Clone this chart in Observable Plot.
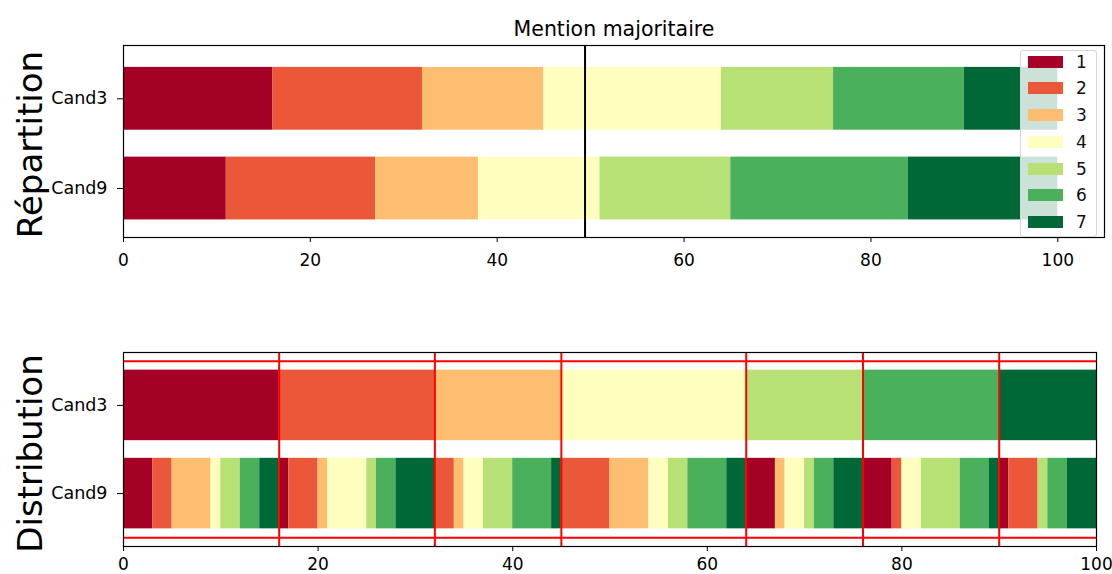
<!DOCTYPE html>
<html>
<head>
<meta charset="utf-8">
<script src="https://cdn.jsdelivr.net/npm/d3@7"></script>
<script src="https://cdn.jsdelivr.net/npm/@observablehq/plot@0.6"></script>
<style>
  html, body { margin: 0; padding: 0; background: #fff; }
  #wrap { position: relative; width: 1112px; height: 574px; overflow: hidden; font-family: "DejaVu Sans", sans-serif; }
  #wrap svg { display: block; overflow: visible; }
  .lg-swatches {
    position: absolute; left: 1020px; top: 50px; width: 77px; height: 187px;
    box-sizing: border-box; margin: 0; padding: 0 0 0 7px;
    background: rgba(255,255,255,0.8); border: 1px solid #d6d6d6; border-radius: 3px;
    font-family: "DejaVu Sans", sans-serif; font-size: 17px; color: #111;
  }
  .lg-swatches .lg-swatch { height: 26.7px; padding: 0; display: flex; align-items: center; }
  .lg-swatches .lg-swatch:first-of-type { margin-top: -2.6px; }
  .lg-swatches .lg-swatch > svg { margin-right: 13px; }
</style>
</head>
<body>
<div id="wrap"></div>
<script>
// ---- data ----
const candidates = ["Cand3", "Cand9"];
const grades = ["1", "2", "3", "4", "5", "6", "7"];
const gradeColors = ["#a50026", "#ea5739", "#fdbf6f", "#feffbe", "#b7e075", "#4bb05c", "#006837"];
const cand3Shares = [16, 16, 13, 19, 12, 14, 10];
const cand9Shares = [11, 16, 11, 13, 14, 19, 16];
// Cand9 grade counts inside each Cand3 grade band (rows: Cand3 grade 1..7, cols: Cand9 grade 1..7)
const cand9WithinCand3 = [
  [3, 2, 4, 1, 2, 2, 2],
  [1, 3, 1, 4, 1, 2, 4],
  [0, 2, 1, 2, 3, 4, 1],
  [0, 5, 4, 2, 2, 4, 2],
  [3, 0, 1, 2, 1, 2, 3],
  [3, 1, 0, 2, 4, 3, 1],
  [1, 3, 0, 0, 1, 2, 3]
];
const majorityLine = 49.4;
const xTicks = [0, 20, 40, 60, 80, 100];
const titleText = "Mention majoritaire";
const topLabel = "Répartition";
const bottomLabel = "Distribution";

// ---- derived tables ----
function stackRow(values, cand, row, gradeList) {
  let acc = 0;
  return values.map((v, i) => {
    const s = {cand, row, grade: gradeList[i], x1: acc, x2: acc + v};
    acc += v;
    return s;
  });
}
const rowOf = {Cand3: 1, Cand9: 0};
const repartition = [
  ...stackRow(cand3Shares, "Cand3", rowOf.Cand3, grades),
  ...stackRow(cand9Shares, "Cand9", rowOf.Cand9, grades)
];
const distribution = [
  ...stackRow(cand3Shares, "Cand3", rowOf.Cand3, grades),
  ...stackRow(cand9WithinCand3.flat(), "Cand9", rowOf.Cand9, cand9WithinCand3.flatMap(() => grades))
];
const bandEdges = d3.cumsum(cand3Shares).slice(0, -1);
const tickName = (v) => candidates.find((c) => rowOf[c] === v);

const color = {domain: grades, range: gradeColors};
const fontStyle = {fontFamily: "DejaVu Sans, sans-serif", fontSize: "17px", color: "#000", background: "transparent"};

const topPlot = Plot.plot({
  width: 1112, height: 290,
  marginLeft: 123, marginRight: 8, marginTop: 45, marginBottom: 53,
  style: fontStyle,
  x: {domain: [0, 105], label: null},
  y: {domain: [-0.546, 1.594], label: null},
  color,
  marks: [
    Plot.rect(repartition, {x1: "x1", x2: "x2", y1: (d) => d.row - 0.35, y2: (d) => d.row + 0.35, fill: "grade"}),
    Plot.ruleX([majorityLine], {stroke: "#000", strokeWidth: 2}),
    Plot.frame({stroke: "#000", strokeWidth: 1.2}),
    Plot.axisX(xTicks, {tickSize: 5, tickPadding: 11, fontSize: 17, label: null}),
    Plot.axisY([0, 1], {tickSize: 6, tickPadding: 10, fontSize: 17.5, label: null, tickFormat: tickName}),
    Plot.text([titleText], {frameAnchor: "top", textAnchor: "middle", lineAnchor: "bottom", dy: -10, fontSize: 20.5, fill: "#000"}),
    Plot.text([topLabel], {frameAnchor: "left", textAnchor: "middle", rotate: -90, lineAnchor: "bottom", dx: -82, dy: 3, fontSize: 34, fill: "#000"})
  ]
});

const bottomPlot = Plot.plot({
  width: 1112, height: 284,
  marginLeft: 123, marginRight: 16, marginTop: 62, marginBottom: 28,
  style: fontStyle,
  x: {domain: [0, 100], label: null},
  y: {domain: [-0.6, 1.6], label: null},
  color,
  marks: [
    Plot.rect(distribution, {x1: "x1", x2: "x2", y1: (d) => d.row - 0.4, y2: (d) => d.row + 0.4, fill: "grade"}),
    Plot.ruleX(bandEdges, {stroke: "#ff0000", strokeWidth: 2}),
    Plot.ruleY([-0.5, 1.5], {stroke: "#ff0000", strokeWidth: 2}),
    Plot.frame({stroke: "#000", strokeWidth: 1.2}),
    Plot.axisX(xTicks, {tickSize: 5, tickPadding: 6, fontSize: 17, label: null}),
    Plot.axisY([0, 1], {tickSize: 6, tickPadding: 10, fontSize: 17.5, label: null, tickFormat: tickName}),
    Plot.text([bottomLabel], {frameAnchor: "left", textAnchor: "middle", rotate: -90, lineAnchor: "bottom", dx: -82, dy: 4, fontSize: 34, fill: "#000"})
  ]
});

const legend = Plot.legend({
  color: {type: "ordinal", ...color},
  columns: 1,
  swatchWidth: 35,
  swatchHeight: 12,
  className: "lg"
});

const wrap = document.getElementById("wrap");
wrap.appendChild(topPlot);
wrap.appendChild(bottomPlot);
wrap.appendChild(legend);
</script>
</body>
</html>
